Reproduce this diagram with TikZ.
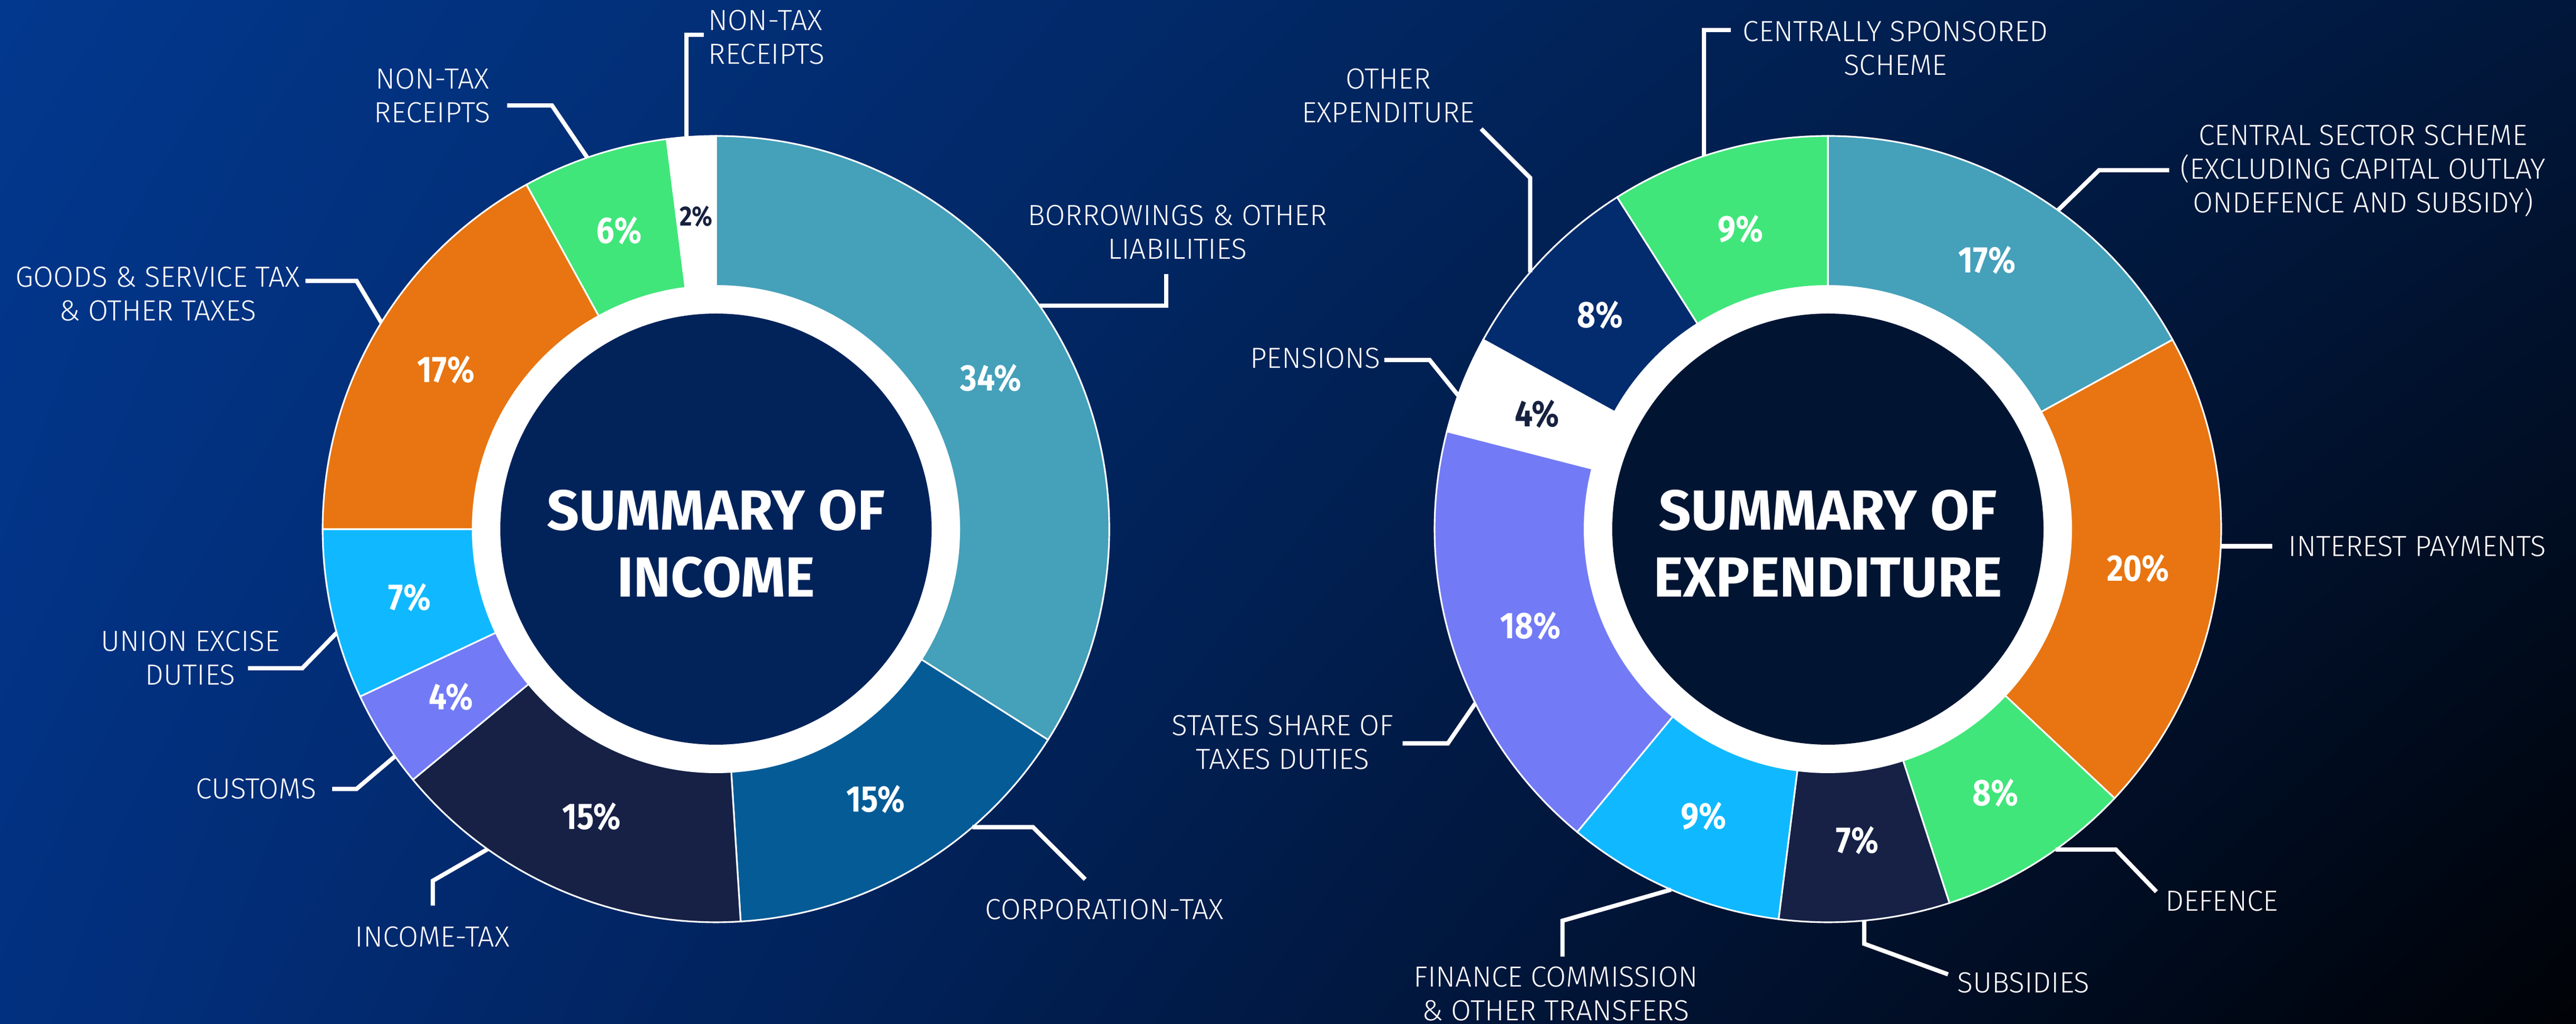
\documentclass[tikz,border=0pt]{standalone}
\usepackage{fontspec}
\setmainfont{Fira Sans}
\newfontfamily\thinfont{Fira Sans Light}
\newfontfamily\pctfont{Fira Sans}[FakeStretch=0.86]
\usetikzlibrary{calc,shadings}

\definecolor{bgul}{HTML}{02388E}
\definecolor{bgll}{HTML}{023080}
\definecolor{bgur}{HTML}{01173B}
\definecolor{bglr}{HTML}{000206}
\definecolor{cteal}{HTML}{45A0BA}
\definecolor{cblue}{HTML}{045B96}
\definecolor{cnavy}{HTML}{162145}
\definecolor{cviolet}{HTML}{727BF5}
\definecolor{ccyan}{HTML}{10B9FF}
\definecolor{corange}{HTML}{E87511}
\definecolor{cgreen}{HTML}{40E67A}
\definecolor{cdeep}{HTML}{022C6E}
\definecolor{cink}{HTML}{17213F}
\definecolor{diskl}{HTML}{02235A}
\definecolor{diskr}{HTML}{011533}

\tikzset{
  lbl/.style={text=white, align=center, inner sep=0pt, font=\thinfont\fontsize{15.7}{18.2}\selectfont},
  pct/.style={font=\pctfont\bfseries\fontsize{20}{24}\selectfont},
  pctsmall/.style={font=\pctfont\bfseries\fontsize{15}{18}\selectfont},
  title/.style={text=white, align=center, font=\bfseries\fontsize{30.5}{36.3}\selectfont},
  wedge/.style={draw=white, line width=0.9pt},
  leader/.style={draw=white, line width=2.3pt},
}

\begin{document}
\begin{tikzpicture}
\useasboundingbox (0,0) rectangle (48.86,19.43);
\shade[upper left=bgul, upper right=bgur, lower left=bgll, lower right=bglr] (0,0) rectangle (48.86,19.43);

\coordinate (inc) at (13.58,9.39);
\coordinate (exp) at (34.67,9.39);

% income ring
\foreach \n/\a/\b/\c/\t/\p/\s in {borrow/90/-32.4/cteal/white/34/pct,
    corp/-32.4/-86.4/cblue/white/15/pct, income/-86.4/-140.4/cnavy/white/15/pct,
    customs/-140.4/-154.8/cviolet/white/4/pct, excise/-154.8/-180/ccyan/white/7/pct,
    gst/-180/-241.2/corange/white/17/pct, ntr/-241.2/-262.8/cgreen/white/6/pct,
    ntrw/-262.8/-270/white/cink/2/pctsmall}{
  \filldraw[wedge, fill=\c] (inc) -- ($(inc)+(\a:7.46)$) arc[start angle=\a, end angle=\b, radius=7.46] -- cycle;
  \node[\s, text=\t] (\n-v) at ($(inc)+({(\a+\b)/2}:5.95)$) {\p\%};
}
\fill[white] (inc) circle (4.63);
\fill[diskl] (inc) circle (4.09);
\node[title] (inc-t) at (13.58,9.11) {SUMMARY OF\\INCOME};

% expenditure ring
\foreach \n/\a/\b/\c/\t/\p/\s in {cs/90/28.8/cteal/white/17/pct,
    ip/28.8/-43.2/corange/white/20/pct, def/-43.2/-72/cgreen/white/8/pct,
    sub/-72/-97.2/cnavy/white/7/pct, fc/-97.2/-129.6/ccyan/white/9/pct,
    ss/-129.6/-194.4/cviolet/white/18/pct, pen/-194.4/-208.8/white/cink/4/pct,
    oe/-208.8/-237.6/cdeep/white/8/pct, css/-237.6/-270/cgreen/white/9/pct}{
  \filldraw[wedge, fill=\c] (exp) -- ($(exp)+(\a:7.46)$) arc[start angle=\a, end angle=\b, radius=7.46] -- cycle;
  \node[\s, text=\t] (\n-v) at ($(exp)+({(\a+\b)/2}:5.93)$) {\p\%};
}
\fill[white] (exp) circle (4.63);
\fill[diskr] (exp) circle (4.09);
\node[title] (exp-t) at (34.67,9.11) {SUMMARY OF\\EXPENDITURE};

% labels, income side
\node[lbl] (borrow-l) at (22.33,15.02) {BORROWINGS \& OTHER\\LIABILITIES};
\node[lbl] (corp-l) at (20.95,2.17) {CORPORATION-TAX};
\node[lbl] (income-l) at (8.20,1.65) {INCOME-TAX};
\node[lbl] (customs-l) at (4.86,4.46) {CUSTOMS};
\node[lbl] (excise-l) at (3.61,6.94) {UNION EXCISE\\DUTIES};
\node[lbl] (gst-l) at (2.99,13.85) {GOODS \& SERVICE TAX\\\& OTHER TAXES};
\node[lbl] (ntr-l) at (8.20,17.61) {NON-TAX\\RECEIPTS};
\node[lbl, align=left, anchor=west] (ntrw-l) at (13.43,18.72) {NON-TAX\\RECEIPTS};

% labels, expenditure side
\node[lbl] (cs-l) at (44.82,16.19) {CENTRAL SECTOR SCHEME\\(EXCLUDING CAPITAL OUTLAY\\ONDEFENCE AND SUBSIDY)};
\node[lbl] (ip-l) at (45.85,9.06) {INTEREST PAYMENTS};
\node[lbl] (def-l) at (42.14,2.33) {DEFENCE};
\node[lbl] (sub-l) at (38.38,0.78) {SUBSIDIES};
\node[lbl] (fc-l) at (29.51,0.57) {FINANCE COMMISSION\\\& OTHER TRANSFERS};
\node[lbl] (ss-l) at (24.33,5.34) {STATES SHARE OF\\TAXES DUTIES};
\node[lbl] (pen-l) at (24.95,12.63) {PENSIONS};
\node[lbl] (oe-l) at (26.33,17.61) {OTHER\\EXPENDITURE};
\node[lbl] (css-l) at (35.95,18.51) {CENTRALLY SPONSORED\\SCHEME};

% leaders
\coordinate (borrow-p) at ($(inc)+(34.6:7.46)$);
\coordinate (corp-p) at ($(inc)+(-49.3:7.46)$);
\coordinate (income-p) at ($(inc)+(-125.5:7.46)$);
\coordinate (customs-p) at ($(inc)+(-144.7:7.46)$);
\coordinate (excise-p) at ($(inc)+(195.3:7.46)$);
\coordinate (gst-p) at ($(inc)+(148.3:7.46)$);
\coordinate (ntr-p) at ($(inc)+(109.1:7.46)$);
\coordinate (ntrw-p) at ($(inc)+(94.3:7.46)$);
\coordinate (cs-p) at ($(exp)+(54.2:7.46)$);
\coordinate (ip-p) at ($(exp)+(-2.5:7.46)$);
\coordinate (def-p) at ($(exp)+(-54.6:7.46)$);
\coordinate (sub-p) at ($(exp)+(-84.7:7.46)$);
\coordinate (fc-p) at ($(exp)+(-113.5:7.46)$);
\coordinate (ss-p) at ($(exp)+(206.3:7.46)$);
\coordinate (pen-p) at ($(exp)+(160.1:7.46)$);
\coordinate (oe-p) at ($(exp)+(139.2:7.46)$);
\coordinate (css-p) at ($(exp)+(108.4:7.46)$);

\draw[leader] (borrow-p) -- ++(2.40,0) -- ++(0,0.60) coordinate (borrow-e);
\draw[leader] (corp-p) -- ++(1.15,0) -- ++(0.99,-0.99) coordinate (corp-e);
\draw[leader] (income-p) -- ++(-1.04,-0.60) -- ++(0,-0.47) coordinate (income-e);
\draw[leader] (customs-p) -- ++(-0.73,-0.62) -- ++(-0.46,0) coordinate (customs-e);
\draw[leader] (excise-p) -- ++(-0.65,-0.67) -- ++(-1.03,0) coordinate (excise-e);
\draw[leader] (gst-p) -- ++(-0.47,0.79) -- ++(-0.97,0) coordinate (gst-e);
\draw[leader] (ntr-p) -- ++(-0.67,0.99) -- ++(-0.85,0) coordinate (ntr-e);
\draw[leader] (ntrw-p) -- ++(0,1.94) -- ++(0.33,0) coordinate (ntrw-e);
\draw[leader] (cs-p) -- ++(0.78,0.76) -- ++(1.33,0) coordinate (cs-e);
\draw[leader] (ip-p) -- ++(0.98,0) coordinate (ip-e);
\draw[leader] (def-p) -- ++(1.14,0) -- ++(0.77,-0.80) coordinate (def-e);
\draw[leader] (sub-p) -- ++(0,-0.44) -- ++(1.59,-0.58) coordinate (sub-e);
\draw[leader] (fc-p) -- ++(-2.06,-0.59) -- ++(0,-0.68) coordinate (fc-e);
\draw[leader] (ss-p) -- ++(-0.52,-0.76) -- ++(-0.86,0) coordinate (ss-e);
\draw[leader] (pen-p) -- ++(-0.54,0.67) -- ++(-0.86,0) coordinate (pen-e);
\draw[leader] (oe-p) -- ++(0,1.79) -- ++(-0.93,0.93) coordinate (oe-e);
\draw[leader] (css-p) -- ++(0,2.39) -- ++(0.51,0) coordinate (css-e);
\end{tikzpicture}
\end{document}
